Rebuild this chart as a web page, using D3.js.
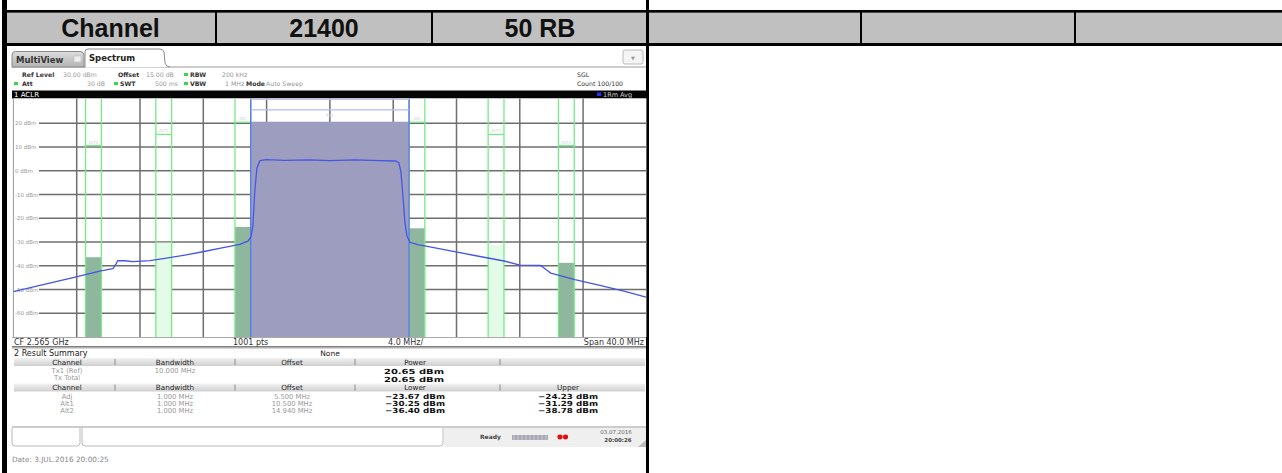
<!DOCTYPE html>
<html><head><meta charset="utf-8">
<script src="https://cdn.jsdelivr.net/npm/d3@7"></script>
<style>
body{margin:0;background:#fff;overflow:hidden}
svg{display:block}
text{font-family:"DejaVu Sans",sans-serif}
</style></head><body>
<svg id="c" width="1282" height="473"></svg>
<script>
// ---------- data ----------
const headerCells = ["Channel", "21400", "50 RB", "", "", ""];
const cellEdges = [5, 216, 432, 648, 861, 1075, 1282];
const yTickValues = [20, 10, 0, -10, -20, -30, -40, -50, -60];
const xGridValues = [-16, -12, -8, -4, 0, 4, 8, 12, 16];
const traceFreq = [-20, -18.32, -16.43, -14.47, -13.71, -13.52, -13.4, -12.95, -12.45, -11.37, -10.43, -9.16, -8.03, -6.82, -5.69, -5.18, -4.99, -4.87, -4.74, -4.61, -4.42, -4.04, -2.84, -1.26, 0, 1.58, 3.16, 4.17, 4.36, 4.49, 4.61, 4.74, 4.87, 5.06, 5.56, 6.32, 7.96, 9.48, 11.0, 12.01, 13.33, 13.65, 13.96, 15.48, 17.06, 18.64, 19.97];
const traceLevel = [-50.9, -48.3, -45.3, -42.2, -41.2, -39.3, -37.8, -37.9, -38.3, -37.8, -36.9, -35.5, -34.1, -32.5, -31.0, -29.6, -27.9, -23.3, -8.1, 1.2, 4.3, 4.7, 4.4, 4.6, 4.3, 4.6, 4.3, 4.1, 3.3, -0.5, -10.2, -21.6, -27.5, -30.2, -31.1, -32.1, -34.2, -36.1, -38.0, -39.7, -39.9, -41.6, -43.1, -45.8, -48.3, -50.8, -53.2];
const channelNames = ["Adj", "Alt1", "Alt2"];
const channelLabels = ["ADJ", "ALT1", "ALT2"];
const channelOffsets = [5.5, 10.5, 14.94];
const channelBandwidths = [1, 1, 1];
const lowerPower = [-23.67, -30.25, -36.40];
const upperPower = [-24.23, -31.29, -38.78];
const limitLevels = [20.4, 15.3, 10.6];
const channelFills = ["#8fb79e", "#e3fbe7", "#8fb79e"];
const txName = "Tx1 (Ref)";
const txBandwidth = 10;
const txPower = 20.65;
const txTotalPower = 20.65;
const txLimit = 25.6;

const svg = d3.select("#c");
const fmt = d3.format(".2f");
const fmt3 = d3.format(".3f");

// ---------- outer table ----------
svg.append("rect").attr("x", 5).attr("y", 12.7).attr("width", 1277).attr("height", 30.5).attr("fill", "#c0c0c0");
svg.append("rect").attr("x", 2).attr("y", 10).attr("width", 1280).attr("height", 2.7).attr("fill", "#000");
svg.append("rect").attr("x", 2).attr("y", 43).attr("width", 1280).attr("height", 3).attr("fill", "#000");
svg.append("rect").attr("x", 2).attr("y", 0).attr("width", 5).attr("height", 473).attr("fill", "#000");
svg.append("rect").attr("x", 646).attr("y", 0).attr("width", 3).attr("height", 473).attr("fill", "#000");
cellEdges.slice(1, -1).forEach(x => {
  if (x !== 648) svg.append("rect").attr("x", x - 1).attr("y", 12).attr("width", 2).attr("height", 32).attr("fill", "#000");
});
headerCells.forEach((t, i) => {
  svg.append("text").attr("x", (cellEdges[i] + cellEdges[i + 1]) / 2).attr("y", 37.3)
    .attr("text-anchor", "middle").style("font-family", "'Liberation Sans',Arial,sans-serif")
    .style("font-weight", "bold").style("font-size", "25px").attr("fill", "#111").text(t);
});

// ---------- instrument screenshot ----------
const g = svg.append("g");
g.append("line").attr("x1", 12).attr("x2", 646).attr("y1", 67).attr("y2", 67).attr("stroke", "#9a9a9a").attr("stroke-width", 1);
const defs = svg.append("defs");
const grad = defs.append("linearGradient").attr("id", "tabg").attr("x1", 0).attr("x2", 0).attr("y1", 0).attr("y2", 1);
grad.append("stop").attr("offset", 0).attr("stop-color", "#dcdcdc");
grad.append("stop").attr("offset", 1).attr("stop-color", "#b4b4b4");
const hgrad = defs.append("linearGradient").attr("id", "hdrg").attr("x1", 0).attr("x2", 0).attr("y1", 0).attr("y2", 1);
hgrad.append("stop").attr("offset", 0).attr("stop-color", "#f2f2f2");
hgrad.append("stop").attr("offset", 1).attr("stop-color", "#cfcfcf");
g.append("path").attr("d", "M12,67 L12,55 Q12,51.5 15.5,51.5 L80,51.5 Q84,51.5 84,55 L84,67 Z")
  .attr("fill", "url(#tabg)").attr("stroke", "#8a8a8a");
g.append("text").attr("x", 16).attr("y", 63).style("font-size", "8.5px").style("font-weight", "bold").attr("fill", "#333").text("MultiView");
g.append("rect").attr("x", 74).attr("y", 56).attr("width", 7).attr("height", 6).attr("fill", "#eee").attr("stroke", "#bbb").attr("stroke-width", 0.6);
g.append("path").attr("d", "M85,67.5 L85,52 Q85,49 88,49 L160,49 Q163,49 164,52 L165,63 Q166,67 170,67")
  .attr("fill", "#fff").attr("stroke", "#8a8a8a");
g.append("text").attr("x", 89).attr("y", 61).style("font-size", "8.5px").style("font-weight", "bold").attr("fill", "#222").text("Spectrum");
g.append("rect").attr("x", 623).attr("y", 50).attr("width", 20).attr("height", 14).attr("rx", 2).attr("fill", "#f4f4f4").attr("stroke", "#bbb");
g.append("text").attr("x", 633).attr("y", 59.5).attr("text-anchor", "middle").style("font-size", "5px").attr("fill", "#999").text("▼");

// settings header
const hdr = [
  {x: 22, y: 77, t: "Ref Level", b: true}, {x: 63, y: 77, t: "30.00 dBm"}, {x: 118, y: 77, t: "Offset", b: true},
  {x: 146, y: 77, t: "15.00 dB"}, {x: 190, y: 77, t: "RBW", b: true}, {x: 222, y: 77, t: "200 kHz"},
  {x: 22, y: 86, t: "Att", b: true}, {x: 87, y: 86, t: "30 dB"}, {x: 120, y: 86, t: "SWT", b: true},
  {x: 155, y: 86, t: "500 ms"}, {x: 190, y: 86, t: "VBW", b: true}, {x: 225, y: 86, t: "1 MHz"},
  {x: 246, y: 86, t: "Mode", b: true}, {x: 266, y: 86, t: "Auto Sweep"},
  {x: 577, y: 77, t: "SGL", d: true}, {x: 577, y: 86, t: "Count 100/100", d: true}
];
hdr.forEach(h => g.append("text").attr("x", h.x).attr("y", h.y).style("font-size", "6.2px")
  .style("font-weight", h.b ? "bold" : "normal").attr("fill", h.b || h.d ? "#333" : "#999").text(h.t));
[[16, 83.5], [186, 74.5], [116, 83.5], [186, 83.5]].forEach(p =>
  g.append("rect").attr("x", p[0] - 2).attr("y", p[1] - 1.5).attr("width", 4).attr("height", 3).attr("fill", "#3ad44e"));

// ACLR title bar
g.append("rect").attr("x", 12).attr("y", 90.5).attr("width", 635).attr("height", 8).attr("fill", "#050505");
g.append("text").attr("x", 14).attr("y", 97.3).style("font-size", "7px").attr("fill", "#fff").text("1 ACLR");
g.append("rect").attr("x", 597).attr("y", 92.5).attr("width", 4).attr("height", 3.5).attr("fill", "#2030ff");
g.append("text").attr("x", 603).attr("y", 97.3).style("font-size", "6.5px").attr("fill", "#ccc").text("1Rm Avg");

// plot
const x = d3.scaleLinear().domain([-20, 20]).range([13.4, 646.4]);
const y = d3.scaleLinear().domain([-70, 30]).range([337, 99.5]);
const plotTop = 98.5, plotBot = 337;
const p = g.append("g");
p.append("rect").attr("x", x(-20)).attr("y", plotTop).attr("width", x(20) - x(-20)).attr("height", plotBot - plotTop).attr("fill", "#fff");
p.selectAll(".hg").data(yTickValues).join("line")
  .attr("x1", 39).attr("x2", x(20)).attr("y1", d => y(d)).attr("y2", d => y(d))
  .attr("stroke", "#6e6e6e").attr("stroke-width", 1.5);
p.selectAll(".hl").data(yTickValues).join("text")
  .attr("x", 15).attr("y", d => y(d) + 2).style("font-size", "5.5px").attr("fill", "#999")
  .text(d => d + " dBm");
p.selectAll(".vg").data(xGridValues).join("line")
  .attr("x1", d => x(d)).attr("x2", d => x(d)).attr("y1", plotTop).attr("y2", plotBot)
  .attr("stroke", "#6e6e6e").attr("stroke-width", 1.5);
p.append("line").attr("x1", x(-20)).attr("x2", x(-20)).attr("y1", plotTop).attr("y2", plotBot).attr("stroke", "#999");

const sides = [];
channelNames.forEach((n, i) => {
  sides.push({i, lo: -channelOffsets[i] - channelBandwidths[i] / 2, hi: -channelOffsets[i] + channelBandwidths[i] / 2, pw: lowerPower[i]});
  sides.push({i, lo: channelOffsets[i] - channelBandwidths[i] / 2, hi: channelOffsets[i] + channelBandwidths[i] / 2, pw: upperPower[i]});
});
p.selectAll(".bar").data(sides).join("rect")
  .attr("x", d => x(d.lo)).attr("width", d => x(d.hi) - x(d.lo))
  .attr("y", d => y(d.pw)).attr("height", d => plotBot - y(d.pw))
  .attr("fill", d => channelFills[d.i]);
p.append("rect").attr("x", x(-txBandwidth / 2)).attr("width", x(txBandwidth / 2) - x(-txBandwidth / 2))
  .attr("y", y(txPower)).attr("height", plotBot - y(txPower)).attr("fill", "#9d9dc0");
sides.forEach(d => {
  [d.lo, d.hi].forEach(f => p.append("line").attr("x1", x(f)).attr("x2", x(f)).attr("y1", plotTop).attr("y2", plotBot)
    .attr("stroke", "#74ec88").attr("stroke-width", 1.3));
  p.append("line").attr("x1", x(d.lo)).attr("x2", x(d.hi)).attr("y1", y(limitLevels[d.i])).attr("y2", y(limitLevels[d.i]))
    .attr("stroke", "#74ec88").attr("stroke-width", 1.3);
  p.append("text").attr("x", (x(d.lo) + x(d.hi)) / 2).attr("y", y(limitLevels[d.i]) - 2).attr("text-anchor", "middle")
    .style("font-size", "4px").attr("fill", "#c8d8c8").text(channelLabels[d.i]);
});
[-txBandwidth / 2, txBandwidth / 2].forEach(f => p.append("line").attr("x1", x(f)).attr("x2", x(f))
  .attr("y1", plotTop).attr("y2", plotBot).attr("stroke", "#5a6cf0").attr("stroke-width", 1.3));
p.append("line").attr("x1", x(-txBandwidth / 2)).attr("x2", x(txBandwidth / 2)).attr("y1", y(txLimit)).attr("y2", y(txLimit))
  .attr("stroke", "#b4baf6").attr("stroke-width", 1.3);
p.append("line").attr("x1", x(-txBandwidth / 2)).attr("x2", x(txBandwidth / 2)).attr("y1", plotTop + 1).attr("y2", plotTop + 1)
  .attr("stroke", "#c4c8f8").attr("stroke-width", 1.2);
p.append("text").attr("x", x(0)).attr("y", y(txLimit) + 7).attr("text-anchor", "middle").style("font-size", "4px").attr("fill", "#c8c8e0").text("TX1");
const line = d3.line().x(d => x(d[0])).y(d => y(d[1]));
p.append("path").datum(traceFreq.map((f, i) => [f, traceLevel[i]])).attr("d", line)
  .attr("fill", "none").attr("stroke", "#4556e6").attr("stroke-width", 1.3).attr("stroke-linejoin", "round");

// footer of plot
g.append("line").attr("x1", 12).attr("x2", 646).attr("y1", 337.5).attr("y2", 337.5).attr("stroke", "#aaa");
[{x: 14, t: "CF 2.565 GHz"}, {x: 233, t: "1001 pts"}, {x: 388, t: "4.0 MHz/"}].forEach(d =>
  g.append("text").attr("x", d.x).attr("y", 344.5).style("font-size", "8px").attr("fill", "#333").text(d.t));
g.append("text").attr("x", 644).attr("y", 344.5).attr("text-anchor", "end").style("font-size", "8px").attr("fill", "#333").text("Span 40.0 MHz");
g.append("line").attr("x1", 12).attr("x2", 646).attr("y1", 346.8).attr("y2", 346.8).attr("stroke", "#555").attr("stroke-width", 1.2);
g.append("line").attr("x1", 12).attr("x2", 646).attr("y1", 348.3).attr("y2", 348.3).attr("stroke", "#ccc");

// result summary
g.append("text").attr("x", 14).attr("y", 356).style("font-size", "8px").attr("fill", "#222").text("2 Result Summary");
g.append("text").attr("x", 330).attr("y", 356).attr("text-anchor", "middle").style("font-size", "7.5px").attr("fill", "#222").text("None");
const colX = [67, 175, 292, 415, 568];
const seps = [115, 235, 355, 500];
function headerBar(yy, labels) {
  g.append("rect").attr("x", 14).attr("y", yy).attr("width", 631).attr("height", 8).attr("fill", "url(#hdrg)");
  seps.forEach(s => g.append("line").attr("x1", s).attr("x2", s).attr("y1", yy + 1).attr("y2", yy + 7).attr("stroke", "#777").attr("stroke-width", 0.8));
  labels.forEach((t, i) => g.append("text").attr("x", colX[i]).attr("y", yy + 6.7).attr("text-anchor", "middle")
    .style("font-size", "7.2px").attr("fill", "#222").text(t));
}
headerBar(358, ["Channel", "Bandwidth", "Offset", "Power"]);
const light = (t, xx, yy) => g.append("text").attr("x", xx).attr("y", yy).attr("text-anchor", "middle").style("font-size", "6.8px").attr("fill", "#9a9a9a").text(t);
const bold = (t, xx, yy) => g.append("text").attr("x", xx).attr("y", yy).attr("text-anchor", "middle").style("font-size", "7px").style("font-weight", "bold")
  .attr("textLength", 60).attr("lengthAdjust", "spacingAndGlyphs").attr("fill", "#111").text(t);
light(txName, colX[0], 372.5); light(fmt3(txBandwidth) + " MHz", colX[1], 372.5); bold(fmt(txPower) + " dBm", colX[3] - 1, 374);
light("Tx Total", colX[0], 379.5); bold(fmt(txTotalPower) + " dBm", colX[3] - 1, 381.5);
headerBar(383.5, ["Channel", "Bandwidth", "Offset", "Lower", "Upper"]);
channelNames.forEach((n, i) => {
  const yy = 398.5 + i * 7;
  light(n, colX[0], yy); light(fmt3(channelBandwidths[i]) + " MHz", colX[1], yy);
  light(fmt3(channelOffsets[i]) + " MHz", colX[2], yy);
  bold(fmt(lowerPower[i]) + " dBm", colX[3], yy + 0.5);
  bold(fmt(upperPower[i]) + " dBm", colX[4], yy + 0.5);
});
g.append("line").attr("x1", 12).attr("x2", 646).attr("y1", 427).attr("y2", 427).attr("stroke", "#999");

// status bar
g.append("rect").attr("x", 444).attr("y", 428).attr("width", 202).attr("height", 19).attr("fill", "#efefef");
g.append("path").attr("d", "M12,428 L12,443 Q12,446 15,446 L77,446 Q80,446 80,443 L80,428").attr("fill", "#fff").attr("stroke", "#bbb");
g.append("path").attr("d", "M82,428 L82,443 Q82,446 85,446 L440,446 Q443,446 443,443 L443,428").attr("fill", "#fff").attr("stroke", "#bbb");
g.append("text").attr("x", 480).attr("y", 439).style("font-size", "6px").style("font-weight", "bold").attr("fill", "#444").text("Ready");
g.append("rect").attr("x", 512).attr("y", 435).attr("width", 36).attr("height", 5).attr("fill", "#a8a8b8");
d3.range(0, 9).forEach(k => g.append("line").attr("x1", 514 + k * 4).attr("x2", 514 + k * 4).attr("y1", 435).attr("y2", 440).attr("stroke", "#ddd").attr("stroke-width", 0.7));
g.append("ellipse").attr("cx", 560).attr("cy", 437).attr("rx", 2.6).attr("ry", 2.4).attr("fill", "#e01010");
g.append("ellipse").attr("cx", 565.5).attr("cy", 437).attr("rx", 2.6).attr("ry", 2.4).attr("fill", "#e01010");
g.append("text").attr("x", 616).attr("y", 434).attr("text-anchor", "middle").style("font-size", "5.5px").attr("fill", "#666").text("03.07.2016");
g.append("text").attr("x", 618).attr("y", 442).attr("text-anchor", "middle").style("font-size", "5.5px").style("font-weight", "bold").attr("fill", "#444").text("20:00:26");
g.append("path").attr("d", "M646,440 L646,447 L638,447 Z").attr("fill", "#bbb");
g.append("text").attr("x", 12).attr("y", 462).style("font-size", "7.3px").attr("fill", "#888").text("Date: 3.JUL.2016  20:00:25");
</script>
</body></html>
